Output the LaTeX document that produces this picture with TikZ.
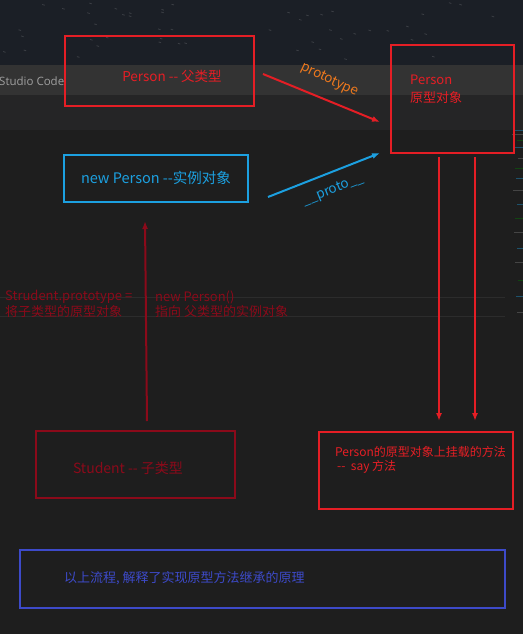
\documentclass[tikz,border=0pt]{standalone}
\usepackage{fontspec}
\setmainfont{Noto Sans CJK SC}
\newfontfamily\uifont{Open Sans}
\usepackage{tikz}
\usetikzlibrary{arrows.meta}

\definecolor{wallpaper}{RGB}{27,31,38}
\definecolor{titlebar}{RGB}{51,51,51}
\definecolor{tabbar}{RGB}{37,37,38}
\definecolor{editor}{RGB}{30,30,30}
\definecolor{protored}{RGB}{229,30,37}
\definecolor{darkred}{RGB}{139,10,26}
\definecolor{instblue}{RGB}{28,160,224}
\definecolor{protoorange}{RGB}{236,120,30}
\definecolor{noteblue}{RGB}{61,74,201}

\tikzset{
	redbox/.style={draw=protored,line width=2pt},
	bluebox/.style={draw=instblue,line width=2pt},
	studentbox/.style={draw=darkred,line width=2pt},
	notebox/.style={draw=noteblue,line width=2pt},
	label/.style={inner sep=0pt,font=\fontsize{13}{15}\selectfont},
	link/.style={line width=2pt,-{Latex[length=8pt,width=6pt]}},
}

\begin{document}
\begin{tikzpicture}[x=1pt,y=-1pt,line join=miter]
\useasboundingbox (0,0) rectangle (523,634);
% screen behind the sketch
\fill[editor] (0,0) rectangle (523,634);
\fill[wallpaper] (0,0) rectangle (523,65);
\fill[titlebar] (0,65) rectangle (523,95);
\fill[tabbar] (0,95) rectangle (523,130);
\pgfmathsetseed{11}
\foreach \i in {1,...,50} { % specks on the wallpaper
	\pgfmathsetmacro{\px}{523*rnd}
	\pgfmathsetmacro{\py}{62*rnd}
	\draw[color=white!14!wallpaper,line width=0.8pt] (\px,\py) -- ++(2.5,0.8);
}
\node[anchor=west,inner sep=0pt,text=gray!75,font=\uifont\fontsize{11.5}{14}\selectfont] (title) at (-1,81) {Studio Code};
\foreach \y in {297,316} {
	\draw[color=white!6!editor,line width=1pt] (0,\y) -- (505,\y);
}
\foreach \y/\w/\c in {130/8/instblue,134/11/gray,140/6/green!50!black,147/9/instblue,158/5/gray,168/8/green!50!black,178/7/instblue,190/10/gray,204/6/instblue,218/8/green!50!black,232/9/gray,248/6/instblue,262/8/gray,280/5/green!50!black,296/7/instblue,312/6/gray} { % minimap
	\draw[color=\c!40!editor,line width=1pt] (523-\w,\y) -- (523,\y);
}

% boxes
\draw[redbox] (65,36) rectangle (254,106);
\draw[redbox] (391,45) rectangle (514,153);
\draw[bluebox] (64,155) rectangle (248,202);
\draw[studentbox] (36,431) rectangle (235,498);
\draw[redbox] (319,432) rectangle (513,509);
\draw[notebox] (20,550) rectangle (505,608);

% texts
\node[label,text=protored,font=\fontsize{13.5}{16}\selectfont] (parent) at (172,76) {Person -{}- 父类型};
\node[label,text=protored,anchor=west] (protoname) at (410,80) {Person};
\node[label,text=protored,anchor=west] (protoobj) at (410,98) {原型对象};
\node[label,text=instblue,font=\fontsize{14.5}{17}\selectfont] (instance) at (156,178) {new Person -{}-实例对象};
\node[label,text=darkred,font=\fontsize{14}{17}\selectfont] (student) at (128,468) {Student -{}- 子类型};
\node[label,text=protored,anchor=west,font=\fontsize{12}{14}\selectfont] (method) at (335,452) {Person的原型对象上挂载的方法};
\node[label,text=protored,anchor=west,font=\fontsize{12}{14}\selectfont] (say) at (337,467) {-{}- \ say 方法};
\node[label,text=darkred,anchor=west] (assignleft) at (5,297) {Strudent.prototype =};
\node[label,text=darkred,anchor=west] (assignleftcn) at (5,312) {将子类型的原型对象};
\node[label,text=darkred,anchor=west] (assignright) at (155,297) {new Person()};
\node[label,text=darkred,anchor=west] (assignrightcn) at (155,312) {指向 父类型的实例对象};
\node[label,text=noteblue,anchor=west] (note) at (64,578) {以上流程, 解释了实现原型方法继承的原理};

% connectors
\coordinate (parentout) at (263,74);
\coordinate (protoin) at (380,122);
\coordinate (instout) at (268,197);
\coordinate (instin) at (380,153);
\coordinate (methodsrc1) at (439,157);
\coordinate (methoddst1) at (439,421);
\coordinate (methodsrc2) at (475,157);
\coordinate (methoddst2) at (475,421);
\coordinate (studentout) at (147,421);
\coordinate (studentin) at (145,221);
\draw[link,protored] (parentout) -- (protoin) node[midway,above=9pt,sloped,rotate=-3,text=protoorange,font=\fontsize{13.5}{16}\selectfont] {prototype};
\draw[link,instblue] (instout) -- (instin) node[midway,below=7pt,sloped,text=instblue,font=\fontsize{13.5}{16}\selectfont,xshift=3pt] {\_\_proto\_\_};
\draw[link,protored] (methodsrc1) -- (methoddst1);
\draw[link,protored] (methodsrc2) -- (methoddst2);
\draw[link,darkred] (studentout) -- (studentin);
\end{tikzpicture}
\end{document}
